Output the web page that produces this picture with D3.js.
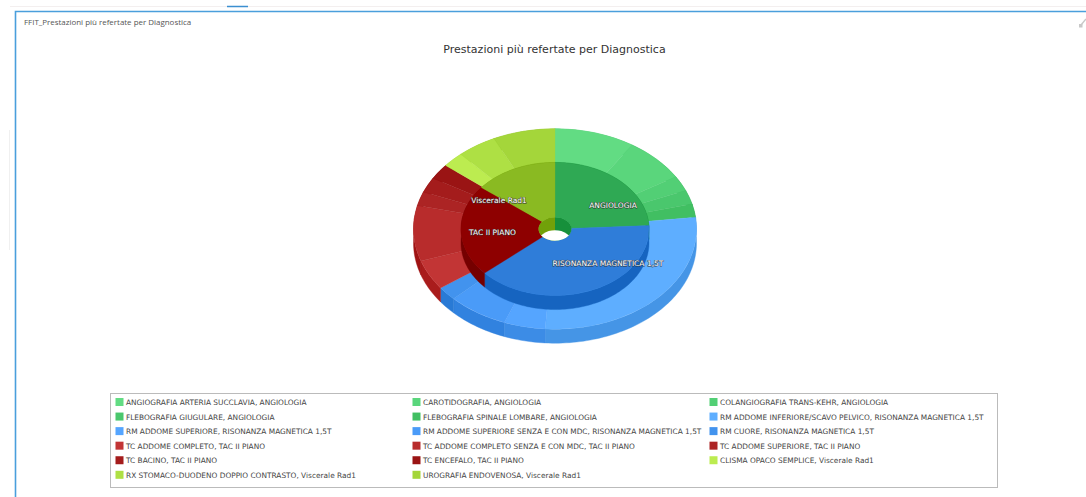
<!DOCTYPE html>
<html><head><meta charset="utf-8">
<script src="https://cdn.jsdelivr.net/npm/d3@7/dist/d3.min.js"></script>
<style>html,body{margin:0;padding:0;background:#fff;overflow:hidden}svg{display:block}</style>
</head><body><svg id="c" width="1086" height="497"></svg>
<script>
const panelTitle = "FFIT_Prestazioni più refertate per Diagnostica";
const chartTitle = "Prestazioni più refertate per Diagnostica";
const groupNames = ["ANGIOLOGIA","RISONANZA MAGNETICA 1,5T","TAC II PIANO","Viscerale Rad1"];
const groupShares = [87, 141.5, 80, 51.5];
const groupColors = ["#2fa954","#2f7dd9","#8e0000","#8aba22"];
const itemNames = [
 "ANGIOGRAFIA ARTERIA SUCCLAVIA, ANGIOLOGIA","CAROTIDOGRAFIA, ANGIOLOGIA","COLANGIOGRAFIA TRANS-KEHR, ANGIOLOGIA",
 "FLEBOGRAFIA GIUGULARE, ANGIOLOGIA","FLEBOGRAFIA SPINALE LOMBARE, ANGIOLOGIA","RM ADDOME INFERIORE/SCAVO PELVICO, RISONANZA MAGNETICA 1,5T",
 "RM ADDOME SUPERIORE, RISONANZA MAGNETICA 1,5T","RM ADDOME SUPERIORE SENZA E CON MDC, RISONANZA MAGNETICA 1,5T","RM CUORE, RISONANZA MAGNETICA 1,5T",
 "TC ADDOME COMPLETO, TAC II PIANO","TC ADDOME COMPLETO SENZA E CON MDC, TAC II PIANO","TC ADDOME SUPERIORE, TAC II PIANO",
 "TC BACINO, TAC II PIANO","TC ENCEFALO, TAC II PIANO","CLISMA OPACO SEMPLICE, Viscerale Rad1",
 "RX STOMACO-DUODENO DOPPIO CONTRASTO, Viscerale Rad1","UROGRAFIA ENDOVENOSA, Viscerale Rad1"];
const itemShares = [33,25.6,8.8,8.2,7.7, 100.7,17,24.8,8.2, 17.4,32.2,8,8.9,8.9, 8.9,16.2,25.5];
const itemColors = ["#62dc83","#5ad67c","#52cf75","#4ac76d","#41bf62",
 "#5eaeff","#55a5ff","#4a9bf8","#4293ee",
 "#c23535","#b82c2c","#ac2424","#a41c1c","#9a1414",
 "#bcec50","#aee044","#a4d63a"];

const svg = d3.select("#c");
const cx = 555, cy = 229, squash = 0.708, depth = 14;
const rOuter = 141.5, rMid = 94, rHole = 16.5;

const sideColor = c => { const k = d3.rgb(c); return d3.rgb(k.r-25.5,k.g-25.5,k.b-25.5).formatHex(); };
const pie = d3.pie().sort(null).value(d=>d).startAngle(0).endAngle(2*Math.PI);
const arc = d3.arc();
const px = (a,r)=>r*Math.sin(a), py=(a,r)=>-r*Math.cos(a)*squash;
const wallLine = d3.line();
function wallPath(d,r){
  const n = Math.max(2,Math.ceil((d.endAngle-d.startAngle)*40));
  const as = d3.range(n+1).map(i=>d.startAngle+(d.endAngle-d.startAngle)*i/n);
  const top = as.map(a=>[px(a,r),py(a,r)]);
  const bot = as.slice().reverse().map(a=>[px(a,r),py(a,r)+depth]);
  return wallLine(top.concat(bot))+"Z";
}

// chrome
svg.append("line").attr("x1",10).attr("x2",1086).attr("y1",6.5).attr("y2",6.5).attr("stroke","#f3efef");
svg.append("line").attr("x1",227).attr("x2",248).attr("y1",6.5).attr("y2",6.5).attr("stroke","#3b8fd0").attr("stroke-width",1.5);
svg.append("line").attr("x1",9.5).attr("x2",9.5).attr("y1",130).attr("y2",250).attr("stroke","#f0f0f0");
svg.append("path").attr("d","M15.5 497V11.5H1086").attr("fill","none").attr("stroke","#4a9fdc").attr("stroke-width",1.6);
svg.append("text").attr("x",24).attr("y",25).text(panelTitle).attr("font-family","'Open Sans'").attr("font-size",7.95).attr("fill","#555");
const ic = svg.append("g").attr("stroke","#c8c8c8").attr("fill","#c8c8c8");
ic.append("path").attr("d","M1081 25l5-6").attr("stroke-width",1.4);
ic.append("rect").attr("x",1079).attr("y",24).attr("width",3.5).attr("height",3.5).attr("stroke","none");
svg.append("text").attr("x",cx-.5).attr("y",53).attr("text-anchor","middle").text(chartTitle)
  .attr("font-family","'DejaVu Sans'").attr("font-size",11).attr("fill","#333");

// pie
const g = svg.append("g").attr("transform",`translate(${cx},${cy})`);
const ring = g.append("g");
const outer = pie(itemShares), inner = pie(groupShares);
ring.selectAll(".ow").data(outer).join("path").attr("d",d=>wallPath(d,rOuter))
  .attr("fill",(d,i)=>sideColor(itemColors[i])).attr("stroke",(d,i)=>sideColor(itemColors[i])).attr("stroke-width",.4);
const flat = g.append("g").attr("transform",`scale(1,${squash})`);
flat.selectAll(".ot").data(outer).join("path")
  .attr("d",d=>arc({innerRadius:rHole,outerRadius:rOuter,startAngle:d.startAngle,endAngle:d.endAngle}))
  .attr("fill",(d,i)=>itemColors[i]).attr("stroke",(d,i)=>itemColors[i]).attr("stroke-width",.4);
const ringIn = g.append("g");
ringIn.selectAll(".iw").data(inner).join("path").attr("d",d=>wallPath(d,rMid))
  .attr("fill",(d,i)=>sideColor(groupColors[i])).attr("stroke",(d,i)=>sideColor(groupColors[i])).attr("stroke-width",.4);
const flatIn = g.append("g").attr("transform",`scale(1,${squash})`);
flatIn.selectAll(".it").data(inner).join("path")
  .attr("d",d=>arc({innerRadius:rHole,outerRadius:rMid,startAngle:d.startAngle,endAngle:d.endAngle}))
  .attr("fill",(d,i)=>groupColors[i]).attr("stroke",(d,i)=>groupColors[i]).attr("stroke-width",.4);
// hole: inner walls seen through the opening, then the see-through lens
const defs = svg.append("defs");
defs.append("clipPath").attr("id","hole").append("ellipse").attr("rx",rHole).attr("ry",rHole*squash);
const hole = g.append("g").attr("clip-path","url(#hole)");
const holeSides = [0,3].map(i=>({i,a0:i===0?0:-Math.PI,a1:i===0?Math.PI:0}));
hole.selectAll("path").data(holeSides).join("path")
  .attr("d",d=>arc({innerRadius:0,outerRadius:rHole*1.5,startAngle:d.a0,endAngle:d.a1}))
  .attr("fill",d=>sideColor(groupColors[d.i]));
hole.append("ellipse").attr("cy",depth-1).attr("rx",rHole).attr("ry",rHole*squash).attr("fill","#fff");

// labels
const labelSpots = [[613,208],[608,265.5],[492.5,234.5],[499,203]];
const lab = svg.append("g").attr("font-family","'DejaVu Sans'").attr("font-size",7.5).attr("text-anchor","middle");
lab.selectAll("text").data(groupNames).join("text").text(d=>d)
  .attr("x",(d,i)=>labelSpots[i][0]).attr("y",(d,i)=>labelSpots[i][1])
  .attr("fill","#fff").attr("stroke","#333").attr("stroke-width",1.3).attr("stroke-opacity",.7)
  .attr("paint-order","stroke").attr("stroke-linejoin","round");

// legend
const box = {x:110.5,y:393.5,w:887,h:94};
svg.append("rect").attr("x",box.x).attr("y",box.y).attr("width",box.w).attr("height",box.h).attr("fill","#fff").attr("stroke","#bbb");
const col = d3.scaleLinear().domain([0,2]).range([115.5,709.5]);
const row = d3.scaleLinear().domain([0,5]).range([398,470.8]);
const items = svg.append("g").selectAll("g").data(itemNames).join("g")
  .attr("transform",(d,i)=>`translate(${col(i%3)},${row(Math.floor(i/3))})`);
items.append("rect").attr("width",8).attr("height",8).attr("fill",(d,i)=>itemColors[i]);
items.append("text").attr("x",10.5).attr("y",7).text(d=>d).attr("font-family","'DejaVu Sans'").attr("font-size",7.4).attr("fill","#444");
</script></body></html>
